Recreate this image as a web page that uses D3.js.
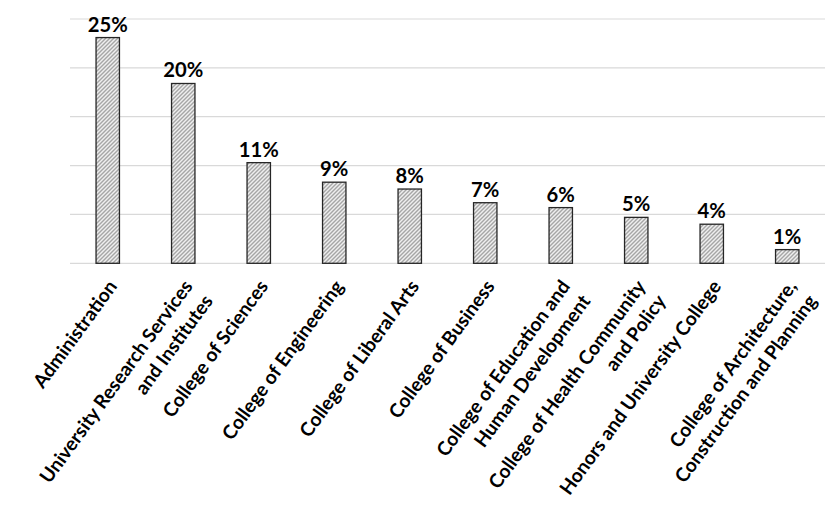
<!DOCTYPE html>
<html>
<head>
<meta charset="utf-8">
<script src="https://cdn.jsdelivr.net/npm/d3@7"></script>
<style>
  body { margin: 0; background: #fff; }
  svg { display: block; }
</style>
</head>
<body>
<div id="chart"></div>
<script>

// Chart data
const categories = [
  "Administration",
  "University Research Services|and Institutes",
  "College of Sciences",
  "College of Engineering",
  "College of Liberal Arts",
  "College of Business",
  "College of Education and|Human Development",
  "College of Health Community|and Policy",
  "Honors and University College",
  "College of Architecture,|Construction and Planning"
];
// bar heights (gridline every 50)
const counts = [231, 184, 103, 83, 76, 62, 57, 47, 40, 14];
// labels printed above the bars
const pctLabels = ["25%", "20%", "11%", "9%", "8%", "7%", "6%", "5%", "4%", "1%"];
const gridTicks = [0, 50, 100, 150, 200, 250];

// Set dimensions and margins
const width = 830;
const height = 523;
const margin = {left: 70, right: 5, top: 19, bottom: 259.7};
const fontFamily = "Lato, 'Open Sans', sans-serif";

const svg = d3.select("#chart")
  .append("svg")
  .attr("width", width)
  .attr("height", height);

// the original used Calibri; pick a Lato size that gives the same text widths
function fitSize(strings, target) {
  const probe = svg.append("text")
    .attr("font-family", fontFamily)
    .attr("font-weight", "bold")
    .attr("font-size", "20px");
  let total = 0;
  strings.forEach(s => { probe.text(s); total += probe.node().getComputedTextLength(); });
  probe.remove();
  return 20 * target / total;
}
const catSize = fitSize(["Administration", "Honors and University College"], 131 + 256);
const valSize = fitSize(["25%"], 40);

// hatched fill, like the excel "wide upward diagonal"
const defs = svg.append("defs");
const pat = defs.append("pattern")
  .attr("id", "hatch")
  .attr("patternUnits", "userSpaceOnUse")
  .attr("width", 4)
  .attr("height", 4);
pat.append("rect")
  .attr("width", 4)
  .attr("height", 4)
  .attr("fill", "#efefef");
pat.append("path")
  .attr("d", "M-1,1 L1,-1 M0,4 L4,0 M3,5 L5,3")
  .attr("stroke", "#a6a6a6")
  .attr("stroke-width", 1.4);

// Scales
const xScale = d3.scaleBand()
  .domain(d3.range(categories.length))
  .range([margin.left, width - margin.right])
  .paddingInner(0.69)
  .paddingOuter(0.345);

const yScale = d3.scaleLinear()
  .domain([0, 250])
  .range([height - margin.bottom, margin.top]);

// Gridlines
svg.append("g")
  .selectAll("line")
  .data(gridTicks)
  .enter()
  .append("line")
    .attr("x1", margin.left)
    .attr("x2", width - margin.right)
    .attr("y1", d => yScale(d))
    .attr("y2", d => yScale(d))
    .attr("stroke", "#d9d9d9")
    .attr("stroke-width", 1.2);

// Bars
svg.selectAll(".bar")
  .data(counts)
  .enter()
  .append("rect")
    .attr("class", "bar")
    .attr("x", (d, i) => xScale(i))
    .attr("y", d => yScale(d))
    .attr("width", xScale.bandwidth())
    .attr("height", d => yScale(0) - yScale(d))
    .attr("fill", "url(#hatch)")
    .attr("stroke", "#262626")
    .attr("stroke-width", 1.3);

// Value labels
svg.selectAll(".val")
  .data(counts)
  .enter()
  .append("text")
    .attr("class", "val")
    .attr("x", (d, i) => xScale(i) + xScale.bandwidth() / 2)
    .attr("y", d => yScale(d) - 6)
    .attr("text-anchor", "middle")
    .attr("font-family", fontFamily)
    .attr("font-weight", "bold")
    .attr("font-size", valSize + "px")
    .attr("fill", "#000")
    .text((d, i) => pctLabels[i]);

// Category labels, rotated, lines right aligned, top-right corner under the tick
const lineH = 25;
const catG = svg.append("g");
categories.forEach((c, i) => {
  const cx = xScale(i) + xScale.bandwidth() / 2;
  const g = catG.append("g")
    .attr("transform", `translate(${cx - 1},${yScale(0) + 15}) rotate(-54)`);
  c.split("|").forEach((t, j) => {
    g.append("text")
      .attr("x", 0)
      .attr("y", catSize * 0.72 + j * lineH)
      .attr("text-anchor", "end")
      .attr("font-family", fontFamily)
      .attr("font-weight", "bold")
      .attr("font-size", catSize + "px")
      .attr("fill", "#000")
      .text(t);
  });
});

</script>
</body>
</html>
